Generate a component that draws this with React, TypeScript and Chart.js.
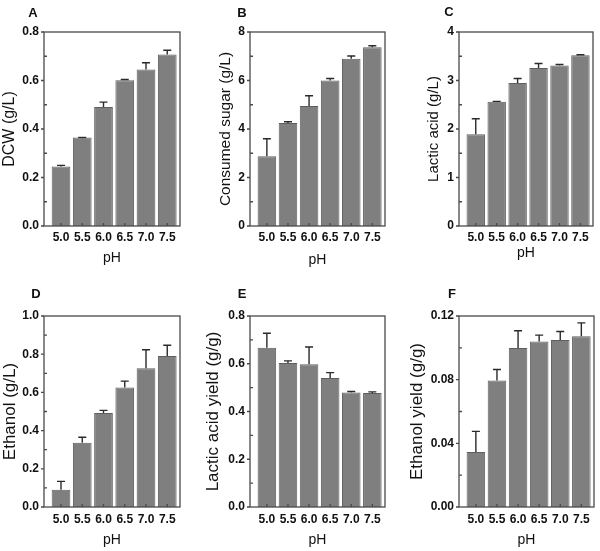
import React, { useEffect, useRef } from 'react';
import { Chart, registerables } from 'chart.js';

Chart.register(...registerables);

const phValues = [5.0, 5.5, 6.0, 6.5, 7.0, 7.5];

const dcwMean = [0.245, 0.365, 0.491, 0.601, 0.645, 0.707];
const dcwErr = [0.005, 0.0, 0.02, 0.003, 0.028, 0.018];

const sugarMean = [2.88, 4.25, 4.95, 6.0, 6.9, 7.37];
const sugarErr = [0.72, 0.05, 0.42, 0.08, 0.11, 0.06];

const lacticMean = [1.89, 2.56, 2.95, 3.26, 3.31, 3.52];
const lacticErr = [0.32, 0.01, 0.09, 0.09, 0.02, 0.01];

const ethanolMean = [0.09, 0.336, 0.492, 0.626, 0.727, 0.791];
const ethanolErr = [0.044, 0.029, 0.014, 0.033, 0.096, 0.056];

const lacticYieldMean = [0.667, 0.603, 0.598, 0.54, 0.48, 0.478];
const lacticYieldErr = [0.061, 0.009, 0.072, 0.023, 0.004, 0.004];

const ethanolYieldMean = [0.0346, 0.0794, 0.0999, 0.104, 0.1049, 0.1072];
const ethanolYieldErr = [0.0129, 0.007, 0.0108, 0.004, 0.0054, 0.0085];

const FONT = "'Liberation Sans', Arial, sans-serif";

type PanelDef = {
  letter: string;
  yTitle: string;
  mean: number[];
  err: number[];
  yMax: number;
  yStep: number;
  decimals: number;
  canvas: [number, number, number, number];
  box: [number, number, number, number];
  letterPos: [number, number];
  yTitleX: number;
  yTitleSize: number;
  xTitleOffset: number;
  xTickPad: number;
};

const panels: PanelDef[] = [
  { letter: 'A', yTitle: 'DCW (g/L)', mean: dcwMean, err: dcwErr, yMax: 0.8, yStep: 0.2, decimals: 1,
    canvas: [0, 0, 200, 275], box: [44, 32, 180, 226], letterPos: [33, 13], yTitleX: 10, yTitleSize: 16,
    xTitleOffset: 17, xTickPad: 4 },
  { letter: 'B', yTitle: 'Consumed sugar (g/L)', mean: sugarMean, err: sugarErr, yMax: 8, yStep: 2, decimals: 0,
    canvas: [200, 0, 200, 275], box: [250, 32, 385, 226], letterPos: [242, 13], yTitleX: 26, yTitleSize: 15.5,
    xTitleOffset: 15, xTickPad: 4 },
  { letter: 'C', yTitle: 'Lactic acid (g/L)', mean: lacticMean, err: lacticErr, yMax: 4, yStep: 1, decimals: 0,
    canvas: [400, 0, 200, 275], box: [459, 32, 593, 226], letterPos: [449, 12], yTitleX: 34, yTitleSize: 15,
    xTitleOffset: 22, xTickPad: 4 },
  { letter: 'D', yTitle: 'Ethanol (g/L)', mean: ethanolMean, err: ethanolErr, yMax: 1.0, yStep: 0.2, decimals: 1,
    canvas: [0, 275, 200, 276], box: [44, 316, 180, 507], letterPos: [36, 294], yTitleX: 10, yTitleSize: 17,
    xTitleOffset: 11, xTickPad: 5 },
  { letter: 'E', yTitle: 'Lactic acid yield (g/g)', mean: lacticYieldMean, err: lacticYieldErr, yMax: 0.8, yStep: 0.2, decimals: 1,
    canvas: [200, 275, 200, 276], box: [250, 316, 385, 507], letterPos: [242, 294], yTitleX: 13, yTitleSize: 17,
    xTitleOffset: 11, xTickPad: 5 },
  { letter: 'F', yTitle: 'Ethanol yield (g/g)', mean: ethanolYieldMean, err: ethanolYieldErr, yMax: 0.12, yStep: 0.04, decimals: 2,
    canvas: [400, 275, 200, 276], box: [459, 316, 594, 507], letterPos: [452, 294], yTitleX: 17, yTitleSize: 17,
    xTitleOffset: 11, xTickPad: 5 },
];

function Panel({ p }: { p: PanelDef }) {
  const ref = useRef<HTMLCanvasElement | null>(null);
  useEffect(() => {
    if (!ref.current) return;
    const [cl, ct, cw, ch] = p.canvas;
    const [x0, y0, x1, y1] = p.box;
    const nTicks = Math.round(p.yMax / p.yStep);
    const yTickVals: number[] = [];
    for (let i = 0; i <= nTicks; i++) yTickVals.push(+(i * p.yStep).toFixed(6));

    const decor = {
      id: 'decor' + p.letter,
      afterDatasetsDraw(chart: any) {
        const ctx = chart.ctx;
        const ys = chart.scales.y;
        const meta = chart.getDatasetMeta(0);
        ctx.save();
        ctx.strokeStyle = '#2a2a2a';
        ctx.lineWidth = 1.4;
        meta.data.forEach((el: any, i: number) => {
          const top = ys.getPixelForValue(p.mean[i] + p.err[i]);
          const bar = el.y;
          ctx.beginPath();
          ctx.moveTo(el.x, bar);
          ctx.lineTo(el.x, top);
          ctx.moveTo(el.x - 4, top);
          ctx.lineTo(el.x + 4, top);
          ctx.stroke();
        });
        ctx.restore();
      },
      afterDraw(chart: any) {
        const ctx = chart.ctx;
        const a = chart.chartArea;
        const ys = chart.scales.y;
        const xs = chart.scales.x;
        ctx.save();
        ctx.strokeStyle = '#4a4a4a';
        ctx.lineWidth = 1.3;
        ctx.strokeRect(a.left, a.top, a.right - a.left, a.bottom - a.top);
        ctx.beginPath();
        yTickVals.forEach((v, i) => {
          const py = ys.getPixelForValue(v);
          ctx.moveTo(a.left - 3, py);
          ctx.lineTo(a.left, py);
          if (i < yTickVals.length - 1) {
            const pm = ys.getPixelForValue(v + p.yStep / 2);
            ctx.moveTo(a.left, pm);
            ctx.lineTo(a.left + 3, pm);
          }
        });
        phValues.forEach((v) => {
          const px = xs.getPixelForValue(v);
          ctx.moveTo(px, a.bottom);
          ctx.lineTo(px, a.bottom - 3);
        });
        ctx.stroke();
        ctx.fillStyle = '#111';
        ctx.font = `bold 13px ${FONT}`;
        ctx.textAlign = 'center';
        ctx.textBaseline = 'middle';
        ctx.fillText(p.letter, p.letterPos[0] - cl, p.letterPos[1] - ct);
        ctx.restore();
      },
    };

    const chart = new Chart(ref.current, {
      type: 'bar',
      data: {
        datasets: [
          {
            data: phValues.map((x, i) => ({ x, y: p.mean[i] })),
            backgroundColor: '#7f7f7f',
            borderColor: '#5e5e5e',
            borderWidth: 1,
            barPercentage: 0.88,
            categoryPercentage: 1,
          },
        ],
      },
      options: {
        animation: false,
        responsive: false,
        maintainAspectRatio: false,
        events: [],
        layout: { padding: { left: 0, top: y0 - ct, right: cl + cw - x1, bottom: 0 } },
        plugins: { legend: { display: false }, tooltip: { enabled: false }, title: { display: false } },
        scales: {
          x: {
            type: 'linear',
            min: 4.6,
            max: 7.8,
            offset: false,
            grid: { display: false, drawTicks: false },
            border: { display: false },
            afterBuildTicks: (s: any) => {
              s.ticks = phValues.map((v) => ({ value: v }));
            },
            afterFit: (s: any) => {
              s.height = ct + ch - y1;
            },
            ticks: {
              autoSkip: false,
              maxRotation: 0,
              padding: p.xTickPad,
              color: '#111',
              font: { family: FONT, size: 12, weight: 'bold' },
              callback: (v: any) => Number(v).toFixed(1),
            },
            title: {
              display: true,
              text: 'pH',
              color: '#111',
              font: { family: FONT, size: 14 },
              padding: { top: 0, bottom: p.xTitleOffset - 14 * 1.2 / 2 },
            },
          },
          y: {
            min: 0,
            max: p.yMax,
            grid: { display: false, drawTicks: false },
            border: { display: false },
            afterBuildTicks: (s: any) => {
              s.ticks = yTickVals.map((v) => ({ value: v }));
            },
            afterFit: (s: any) => {
              s.width = x0 - cl;
            },
            ticks: {
              padding: 5,
              color: '#111',
              font: { family: FONT, size: 12, weight: 'bold' },
              callback: (v: any) => Number(v).toFixed(p.decimals),
            },
            title: {
              display: true,
              text: p.yTitle,
              color: '#111',
              font: { family: FONT, size: p.yTitleSize },
              padding: { top: p.yTitleX - p.yTitleSize * 1.2 / 2, bottom: 0 },
            },
          },
        },
      } as any,
      plugins: [decor],
    });
    return () => chart.destroy();
  }, [p]);
  const [cl, ct, cw, ch] = p.canvas;
  return (
    <canvas
      ref={ref}
      width={cw}
      height={ch}
      style={{ position: 'absolute', left: cl, top: ct, width: cw, height: ch }}
    />
  );
}

export default function App() {
  useEffect(() => {
    document.body.style.margin = '0';
  }, []);
  return (
    <div style={{ position: 'relative', width: 600, height: 551, background: '#fff' }}>
      {panels.map((p) => (
        <Panel key={p.letter} p={p} />
      ))}
    </div>
  );
}
